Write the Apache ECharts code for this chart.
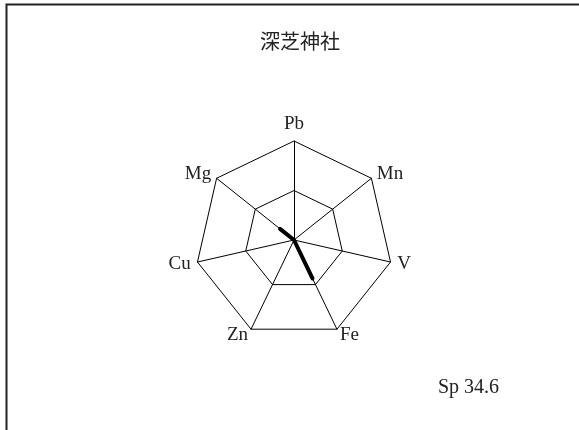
<!DOCTYPE html>
<html>
<head>
<meta charset="utf-8">
<script src="https://cdn.jsdelivr.net/npm/echarts@6/dist/echarts.min.js"></script>
<style>
  html, body { margin: 0; padding: 0; background: #fff; }
  #chart { width: 579px; height: 430px; }
</style>
</head>
<body>
<div id="chart"></div>
<script>
// radar axes, listed counterclockwise from the top (ECharts order)
const elements = ["Pb", "Mg", "Cu", "Zn", "Fe", "V", "Mn"];
const values = [0, 0.18, 0, 0, 0.43, 0, 0];
const axisMax = 1;
const titleText = "深芝神社";
const noteText = "Sp 34.6";

const serif = "'Liberation Serif', 'DejaVu Serif', serif";

const chart = echarts.init(document.getElementById("chart"));
chart.setOption({
  animation: false,
  title: {
    text: titleText,
    left: 295, top: 26, textAlign: "center",
    textStyle: { fontSize: 20, fontWeight: "normal", color: "#222", fontFamily: "'Noto Sans CJK JP', sans-serif" }
  },
  graphic: [
    {
      type: "rect", shape: { x: 6.5, y: 4.5, width: 700, height: 600 },
      style: { fill: "none", stroke: "#222", lineWidth: 2 }
    },
    {
      type: "text", left: 438, top: 378,
      style: { text: noteText, fontSize: 20, fill: "#222", fontFamily: serif }
    }
  ],
  radar: {
    center: [294, 240],
    radius: 99,
    startAngle: 90,
    splitNumber: 2,
    shape: "polygon",
    indicator: elements.map(n => ({ name: n, min: 0, max: axisMax })),
    axisName: { color: "#222", fontSize: 19, fontFamily: serif },
    nameGap: 7,
    axisLine: { lineStyle: { color: "#000", width: 1 } },
    splitLine: { lineStyle: { color: "#000", width: 1 } },
    splitArea: { show: false }
  },
  series: [{
    type: "radar",
    symbol: "none",
    data: [{ value: values }],
    lineStyle: { color: "#000", width: 4 },
    areaStyle: { opacity: 0 }
  }]
});
</script>
</body>
</html>
